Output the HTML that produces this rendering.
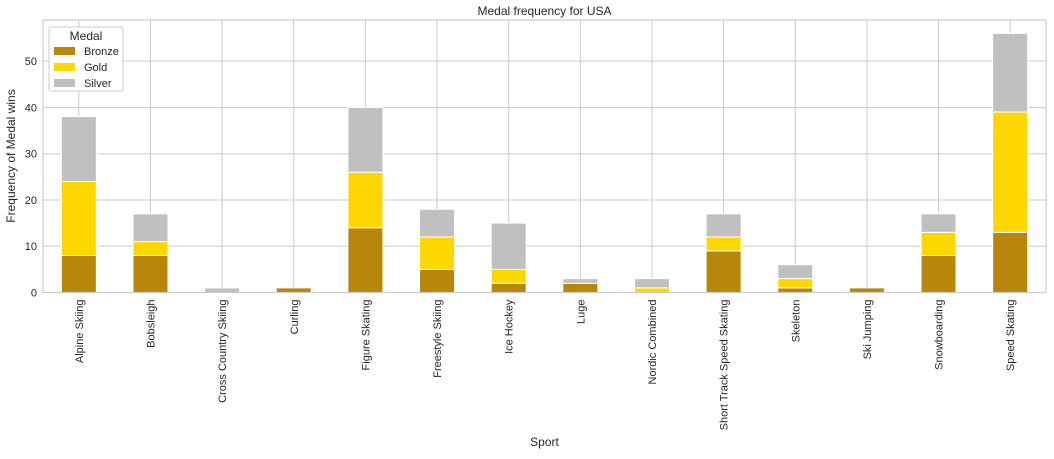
<!DOCTYPE html>
<html><head><meta charset="utf-8"><style>
body{margin:0;background:#fff;font-family:"Liberation Sans",sans-serif;}
svg text{font-family:"Liberation Sans",sans-serif;fill:#262626;}
</style></head><body>
<svg id="c" width="1054" height="454"></svg>
<script>
const categories=["Alpine Skiing","Bobsleigh","Cross Country Skiing","Curling","Figure Skating","Freestyle Skiing","Ice Hockey","Luge","Nordic Combined","Short Track Speed Skating","Skeleton","Ski Jumping","Snowboarding","Speed Skating"];
const bronze=[8,8,0,1,14,5,2,2,0,9,1,1,8,13];
const gold=[16,3,0,0,12,7,3,0,1,3,2,0,5,26];
const silver=[14,6,1,0,14,6,10,1,2,5,3,0,4,17];
const yTicks=[0,10,20,30,40,50];
const seriesNames=["Bronze","Gold","Silver"];
const colors=["#b8860b","#ffd700","#c0c0c0"];
const NS="http://www.w3.org/2000/svg";
const svg=document.getElementById('c');
const L=43,R=1046,T=20,B=292.5,yMax=58.9;
const y=v=>B-(v/yMax)*(B-T);
const step=(R-L)/categories.length;
const xc=i=>L+step*(i+0.5);
function mk(t,a,p){const e=document.createElementNS(NS,t);for(const k in a)e.setAttribute(k,a[k]);(p||svg).appendChild(e);return e;}
mk('rect',{x:L,y:T,width:R-L,height:B-T,fill:'#fff'});
yTicks.forEach(v=>{
 const l=mk('line',{x1:L,x2:R,y1:y(v),y2:y(v),stroke:'#cccccc','stroke-width':1});
 
 
 const t=mk('text',{x:L-6,y:y(v)+4,'text-anchor':'end','font-size':11});
 t.textContent=v;
 
 
});
categories.forEach((c,i)=>{
 const l=mk('line',{x1:xc(i),x2:xc(i),y1:T,y2:B,stroke:'#cccccc','stroke-width':1});
 
 
});
categories.forEach((c,i)=>{
 let base=0;
 [bronze[i],gold[i],silver[i]].forEach((v,s)=>{
  if(v>0){
   const r=mk('rect',{x:xc(i)-17.5,y:y(base+v),width:35,height:y(base)-y(base+v),fill:colors[s],stroke:'#fff','stroke-width':1});
   
   
  }
  base+=v;
 });
 const t=mk('text',{transform:`translate(${xc(i)+4},${B+7}) rotate(-90)`,'text-anchor':'end','font-size':11});
 t.textContent=c;
 
 
});
mk('rect',{x:L,y:T,width:R-L,height:B-T,fill:'none',stroke:'#cccccc','stroke-width':1.2});
let t=mk('text',{x:(L+R)/2,y:15,'text-anchor':'middle','font-size':12});t.textContent='Medal frequency for USA';

t=mk('text',{x:(L+R)/2,y:446,'text-anchor':'middle','font-size':12});t.textContent='Sport';

t=mk('text',{transform:'translate(15,156) rotate(-90)','text-anchor':'middle','font-size':12});t.textContent='Frequency of Medal wins';

const g=mk('g',{});


mk('rect',{x:49,y:27,width:74,height:64,fill:'#fff',stroke:'#cccccc',rx:2},g);
t=mk('text',{x:86,y:40,'text-anchor':'middle','font-size':12},g);t.textContent='Medal';
seriesNames.forEach((n,s)=>{
 const r=mk('rect',{x:54,y:47+s*16,width:21,height:8,fill:colors[s]},g);
 
 
 const tx=mk('text',{x:84,y:55+s*16,'font-size':11},g);tx.textContent=n;
 
 
});
</script>
</body></html>
